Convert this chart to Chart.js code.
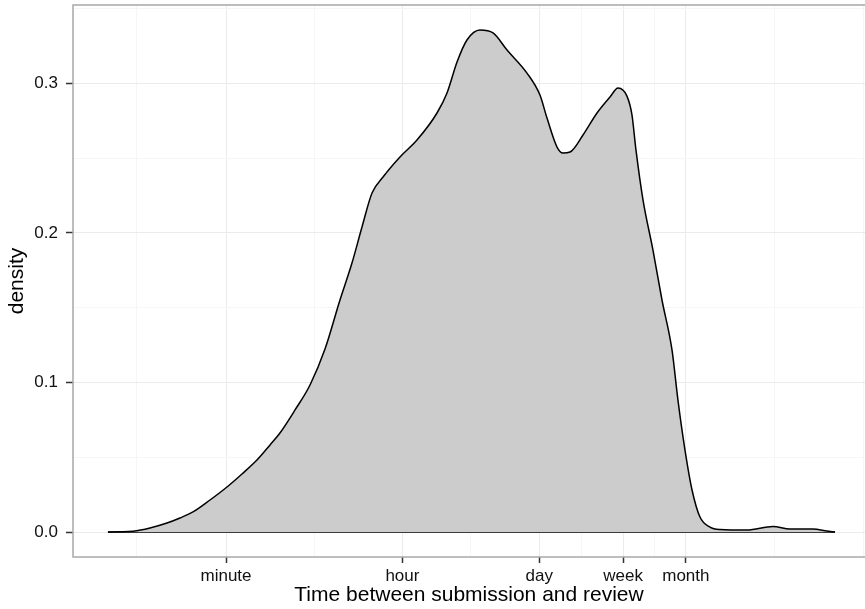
<!DOCTYPE html>
<html>
<head>
<meta charset="utf-8">
<script src="https://cdn.jsdelivr.net/npm/chart.js@4.4.1/dist/chart.umd.min.js"></script>
<style>
  html, body { margin: 0; padding: 0; background: #fff; }
  #wrap { width: 865px; height: 609px; }
</style>
</head>
<body>
<div id="wrap"><canvas id="chart" width="865" height="609"></canvas></div>
<script>
// x values are log10(seconds)
const logSeconds = [
  0.588, 0.709, 0.840, 1.012, 1.183, 1.314, 1.445, 1.617, 1.788, 1.939,
  2.090, 2.222, 2.322, 2.474, 2.625, 2.776, 2.927, 3.048, 3.149, 3.250,
  3.361, 3.532, 3.703, 3.905, 4.006, 4.107, 4.207, 4.338, 4.470, 4.611,
  4.812, 4.943, 5.014, 5.115, 5.175, 5.246, 5.377, 5.518, 5.649, 5.730,
  5.820, 5.870, 5.911, 5.982, 6.082, 6.173, 6.274, 6.334, 6.405, 6.476,
  6.556, 6.657, 6.758, 7.030, 7.292, 7.463, 7.695, 7.836, 7.917
];
const density = [
  0.0000, 0.0001, 0.0005, 0.0027, 0.0060, 0.0094, 0.0134, 0.0214, 0.0301, 0.0388,
  0.0481, 0.0582, 0.0662, 0.0816, 0.0983, 0.1223, 0.1551, 0.1798, 0.2039, 0.2266,
  0.2373, 0.2507, 0.2620, 0.2801, 0.2935, 0.3142, 0.3289, 0.3356, 0.3336, 0.3222,
  0.3068, 0.2921, 0.2767, 0.2573, 0.2533, 0.2540, 0.2654, 0.2801, 0.2908, 0.2968,
  0.2914, 0.2790, 0.2553, 0.2219, 0.1885, 0.1551, 0.1217, 0.0882, 0.0548, 0.0281,
  0.0100, 0.0033, 0.0017, 0.0013, 0.0037, 0.0020, 0.0020, 0.0007, 0.0000
];

const tickLabels = ["minute", "hour", "day", "week", "month"];
const tickSeconds = [60, 3600, 86400, 604800, 2592000];
const xMinorBreaks = [0.88, 2.667, 4.246, 5.36, 6.098, 7.31, 8.2];
const yBreaks = [0, 0.1, 0.2, 0.3];
const yMinorBreaks = [0.05, 0.15, 0.25, 0.35];

const xMajor = tickSeconds.map(s => Math.log10(s));
const FONT = "'Liberation Sans', Arial, Helvetica, sans-serif";

const isMajor = (list, v) => list.some(m => Math.abs(m - v) < 1e-6);

// ggplot-ish panel border
const panelBorder = {
  id: "panelBorder",
  afterDatasetsDraw(chart) {
    const { ctx, chartArea: a } = chart;
    ctx.save();
    ctx.strokeStyle = "#a8a8a8";
    ctx.lineWidth = 1.5;
    ctx.strokeRect(a.left, a.top, a.right - a.left + 2, a.bottom - a.top);
    ctx.restore();
  }
};

new Chart(document.getElementById("chart"), {
  type: "line",
  data: {
    datasets: [
      {
        data: logSeconds.map((x, i) => ({ x: x, y: density[i] })),
        borderColor: "#000",
        borderWidth: 1.5,
        backgroundColor: "#cccccc",
        fill: "origin",
        pointRadius: 0,
        tension: 0.4,
        cubicInterpolationMode: "monotone"
      },
      {
        data: [{ x: logSeconds[0], y: 0 }, { x: logSeconds[logSeconds.length - 1], y: 0 }],
        borderColor: "#000",
        borderWidth: 1.5,
        pointRadius: 0,
        fill: false
      }
    ]
  },
  options: {
    responsive: false,
    animation: false,
    layout: { padding: { left: 0, right: 0, top: 5, bottom: 0 } },
    plugins: { legend: { display: false }, tooltip: { enabled: false } },
    scales: {
      x: {
        type: "linear",
        min: 0.2357,
        max: 8.2196,
        afterBuildTicks(scale) {
          scale.ticks = xMajor.concat(xMinorBreaks).map(v => ({ value: v }));
        },
        afterFit(scale) {
          scale.height = 52;
          scale.paddingLeft = 0;
          scale.paddingRight = 0;
        },
        ticks: {
          autoSkip: false,
          maxRotation: 0,
          padding: 3,
          color: "#111",
          font: { family: FONT, size: 17 },
          callback(value) {
            const i = xMajor.findIndex(m => Math.abs(m - value) < 1e-6);
            return i >= 0 ? tickLabels[i] : "";
          }
        },
        grid: {
          color: ctx => isMajor(xMajor, ctx.tick.value) ? "#ebebeb" : "#f6f6f6",
          lineWidth: 1,
          tickLength: 6,
          tickWidth: 1.5,
          tickColor: ctx => isMajor(xMajor, ctx.tick.value) ? "#333" : "rgba(0,0,0,0)"
        },
        border: { display: false },
        title: {
          display: true,
          text: "Time between submission and review",
          color: "#000",
          font: { family: FONT, size: 21 },
          padding: { top: 0, bottom: 1 }
        }
      },
      y: {
        type: "linear",
        min: -0.0167,
        max: 0.3523,
        afterBuildTicks(scale) {
          scale.ticks = yBreaks.concat(yMinorBreaks).map(v => ({ value: v }));
        },
        afterFit(scale) {
          scale.width = 73;
          scale.paddingTop = 0;
          scale.paddingBottom = 0;
        },
        ticks: {
          padding: 8,
          color: "#111",
          font: { family: FONT, size: 17 },
          callback(value) {
            return isMajor(yBreaks, value) ? value.toFixed(1) : "";
          }
        },
        grid: {
          color: ctx => isMajor(yBreaks, ctx.tick.value) ? "#ebebeb" : "#f6f6f6",
          lineWidth: 1,
          tickLength: 7,
          tickWidth: 1.5,
          tickColor: ctx => isMajor(yBreaks, ctx.tick.value) ? "#333" : "rgba(0,0,0,0)"
        },
        border: { display: false },
        title: {
          display: true,
          text: "density",
          color: "#000",
          font: { family: FONT, size: 21 },
          padding: { top: 5, bottom: 0 }
        }
      }
    }
  },
  plugins: [panelBorder]
});
</script>
</body>
</html>
